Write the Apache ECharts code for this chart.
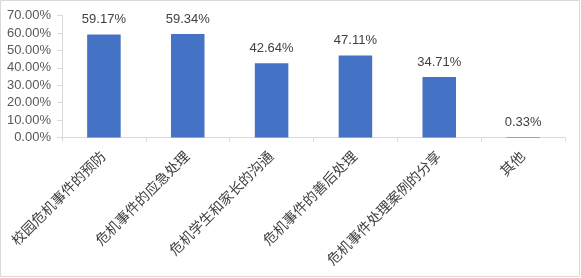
<!DOCTYPE html>
<html><head><meta charset="utf-8">
<script src="https://cdn.jsdelivr.net/npm/echarts@6/dist/echarts.min.js"></script>
<style>html,body{margin:0;padding:0;background:#fff}#c{width:581px;height:278px}</style>
</head><body><div id="c"></div>
<script>
var categories = ["校园危机事件的预防","危机事件的应急处理","危机学生和家长的沟通","危机事件的善后处理","危机事件处理案例的分享","其他"];
var values = [59.17, 59.34, 42.64, 47.11, 34.71, 0.33];
var yTicks = [0, 10, 20, 30, 40, 50, 60, 70];
var font = '"Liberation Sans","Noto Sans CJK SC",sans-serif';
var chart = echarts.init(document.getElementById('c'), null, {renderer:'canvas'});
chart.setOption({
  animation:false,
  graphic:[{type:'rect',shape:{x:0.5,y:0.5,width:579,height:276},style:{fill:'none',stroke:'#d9d9d9',lineWidth:1}}],
  grid:{left:62,right:16,top:15.5,bottom:140.5},
  xAxis:{type:'category',data:categories,
    axisLine:{lineStyle:{color:'#d9d9d9'}},
    axisTick:{show:true,length:4,lineStyle:{color:'#d9d9d9'}},
    axisLabel:{rotate:45,fontSize:14,color:'#404040',fontFamily:font,margin:17,interval:0}},
  yAxis:{type:'value',min:yTicks[0],max:yTicks[yTicks.length-1],interval:10,
    axisLine:{show:true,lineStyle:{color:'#d9d9d9'}},
    axisTick:{show:true,length:5,lineStyle:{color:'#d9d9d9'}},
    splitLine:{show:false},
    axisLabel:{fontSize:13,color:'#595959',fontFamily:font,margin:11,formatter:function(v){return v.toFixed(2)+'%';}}},
  series:[{type:'bar',data:values,barCategoryGap:'60%',
    itemStyle:{color:'#4472C4'},
    label:{show:true,position:'top',distance:8,fontSize:13,color:'#404040',fontFamily:font,formatter:function(p){return p.value.toFixed(2)+'%';}}}]
});
</script></body></html>
